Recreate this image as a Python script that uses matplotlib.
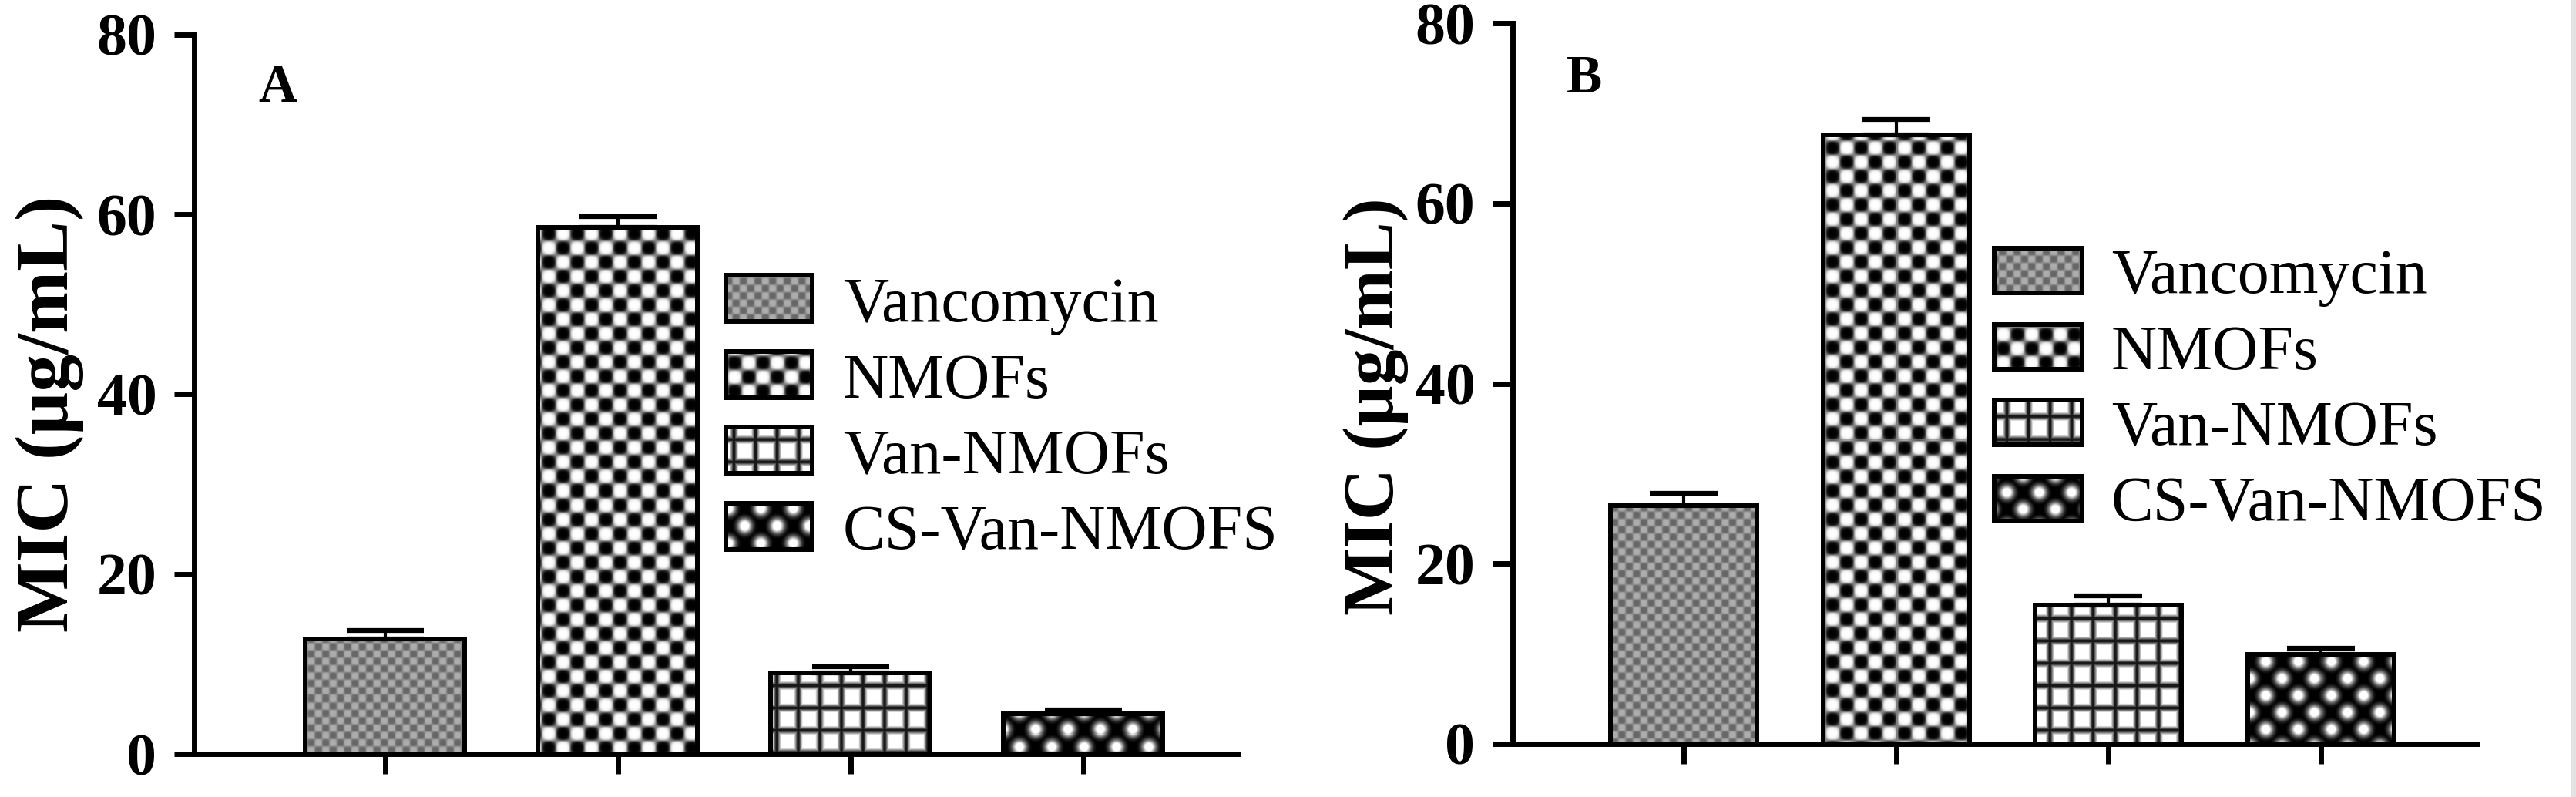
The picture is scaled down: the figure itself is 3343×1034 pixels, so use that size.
import numpy as np
import matplotlib
matplotlib.use("Agg")
import matplotlib.pyplot as plt
from matplotlib.patches import Rectangle

plt.rcParams['font.family'] = ['Liberation Serif', 'DejaVu Serif']

# --- data ---
groups = ['Vancomycin', 'NMOFs', 'Van-NMOFs', 'CS-Van-NMOFS']
mic_a = [12.8, 58.6, 9.0, 4.5]
err_a = [0.9, 1.2, 0.7, 0.4]
mic_b = [26.4, 67.6, 15.4, 9.9]
err_b = [1.4, 1.7, 1.0, 0.7]
yticks = [0, 20, 40, 60, 80]
panel_labels = ['A', 'B']
ylabel = 'MIC (µg/mL)'

W, H = 3343, 1034
DPI = 100


def fx(x):
    return x / W


def fy(y):
    return 1 - y / H


# --- fill textures (pixel space) ---
def tex_vanco(X, Y):
    s = np.sin(np.pi * X / 9.5) * np.sin(np.pi * Y / 9.5)
    return 0.54 + 0.14 * np.tanh(3 * s)


def tex_nmofs(X, Y):
    s = np.sin(np.pi * X / 18.5) * np.sin(np.pi * Y / 18.5)
    return 0.5 + 0.5 * np.tanh(3 * s)


def tex_grid(X, Y):
    gx = np.abs(np.sin(np.pi * X / 28))
    gy = np.abs(np.sin(np.pi * Y / 29))
    return np.clip(np.minimum(gx, gy) * 1.8 - 0.1, 0.1, 1)


def tex_dots(X, Y):
    u = X % 42
    w = Y % 44
    d1 = np.minimum(u, 42 - u) ** 2 + np.minimum(w, 44 - w) ** 2
    d2 = (u - 21) ** 2 + (w - 22) ** 2
    g = np.maximum(np.exp(-d1 / 80), np.exp(-d2 / 80))
    return np.clip(1.4 * g - 0.05, 0, 1)


textures = [tex_vanco, tex_nmofs, tex_grid, tex_dots]


def texture_array(px0, py1, nx, ny, func):
    X, Y = np.meshgrid(np.arange(nx) + px0, py1 - np.arange(ny))
    return func(X, Y)


def fill_bar(ax, rect, func):
    x0, y0 = rect.get_x(), rect.get_y()
    x1, y1 = x0 + rect.get_width(), y0 + rect.get_height()
    (px0, py0), (px1, py1) = ax.transData.transform([(x0, y0), (x1, y1)])
    nx = max(int(round(px1 - px0)), 1)
    ny = max(int(round(py1 - py0)), 1)
    im = ax.imshow(texture_array(px0, py1, nx, ny, func), cmap='gray', vmin=0, vmax=1,
                   extent=(x0, x1, y0, y1), origin='upper', aspect='auto',
                   interpolation='nearest', zorder=2)
    im.set_clip_path(rect)


fig = plt.figure(figsize=(W / DPI, H / DPI), dpi=DPI)

# pixel layout of each panel
panels = [
    dict(vals=mic_a, errs=err_a, box=(252, 45, 1607, 978), xlim=(-0.821, 3.666),
         width=0.685, capsize=36, letter_xy=(360, 115), ylab_xy=(65, 537), ylab_fs=70,
         leg_x=(942, 1054, 1094), leg_top=357, leg_h=60),
    dict(vals=mic_b, errs=err_b, box=(1963, 30, 3215, 965), xlim=(-0.805, 3.736),
         width=0.69, capsize=32, letter_xy=(2056, 103), ylab_xy=(1785, 527), ylab_fs=67,
         leg_x=(2588, 2702, 2740), leg_top=322, leg_h=58),
]

x = np.arange(len(groups))
for p, letter in zip(panels, panel_labels):
    l, t, r, b = p['box']
    ax = fig.add_axes([fx(l), fy(b), fx(r - l), (b - t) / H])
    ax.set_xlim(*p['xlim'])
    ax.set_ylim(0, 80)

    bars = ax.bar(x, p['vals'], width=p['width'], facecolor='none',
                  edgecolor='black', linewidth=4.3, zorder=3)
    for rect, func in zip(bars, textures):
        fill_bar(ax, rect, func)
    ax.errorbar(x, p['vals'], yerr=[np.zeros(len(x)), p['errs']], fmt='none',
                ecolor='black', elinewidth=3, capsize=p['capsize'], capthick=4.5,
                zorder=4, clip_on=False)

    ax.set_xlim(*p['xlim'])
    ax.set_ylim(0, 80)
    ax.set_xticks(x)
    ax.set_xticklabels([])
    ax.set_yticks(yticks)
    ax.set_yticklabels([str(v) for v in yticks], fontsize=56, fontweight='bold')
    ax.tick_params(axis='both', direction='out', length=19, width=5, pad=16)
    for side in ['top', 'right']:
        ax.spines[side].set_visible(False)
    for side in ['left', 'bottom']:
        ax.spines[side].set_linewidth(5)
        ax.spines[side].set_capstyle('projecting')

    fig.text(fx(p['letter_xy'][0]), fy(p['letter_xy'][1]), letter, fontsize=50,
             fontweight='bold', ha='center', va='center')
    fig.text(fx(p['ylab_xy'][0]), fy(p['ylab_xy'][1]), ylabel, fontsize=p['ylab_fs'],
             fontweight='bold', rotation=90, ha='center', va='center')

    # legend drawn as small textured boxes
    bx0, bx1, tx = p['leg_x']
    for i, (name, func) in enumerate(zip(groups, textures)):
        top = p['leg_top'] + i * 98.6
        bot = top + p['leg_h']
        lax = fig.add_axes([fx(bx0), fy(bot), fx(bx1 - bx0), p['leg_h'] / H])
        nx, ny = int(bx1 - bx0), int(p['leg_h'])
        lax.imshow(texture_array(bx0, H - top, nx, ny, func), cmap='gray', vmin=0,
                   vmax=1, extent=(0, 1, 0, 1), aspect='auto', interpolation='nearest')
        lax.set_xticks([])
        lax.set_yticks([])
        for s in lax.spines.values():
            s.set_linewidth(4.3)
        fig.text(fx(tx), fy(bot), name, fontsize=59, ha='left', va='baseline')

fig.patches.append(Rectangle((fx(3337), 0), fx(6), 1, transform=fig.transFigure,
                             facecolor='#e3e3e3', edgecolor='none'))

fig.savefig('out.png', dpi=DPI)
